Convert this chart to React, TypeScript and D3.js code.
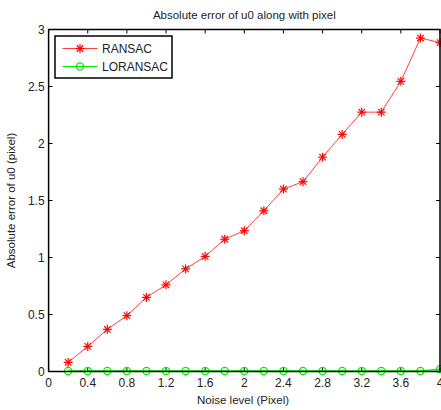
import React from "react";
import * as d3 from "d3";

const noise = [0.2, 0.4, 0.6, 0.8, 1.0, 1.2, 1.4, 1.6, 1.8, 2.0, 2.2, 2.4, 2.6, 2.8, 3.0, 3.2, 3.4, 3.6, 3.8, 4.0];
const ransac = [0.08, 0.22, 0.37, 0.49, 0.65, 0.76, 0.9, 1.01, 1.16, 1.235, 1.41, 1.6, 1.665, 1.88, 2.08, 2.275, 2.275, 2.545, 2.925, 2.885];
const loransac = [0.005, 0.005, 0.005, 0.005, 0.005, 0.005, 0.005, 0.005, 0.005, 0.005, 0.005, 0.005, 0.005, 0.005, 0.005, 0.005, 0.005, 0.005, 0.005, 0.02];
const xTicks = [0, 0.4, 0.8, 1.2, 1.6, 2, 2.4, 2.8, 3.2, 3.6, 4];
const yTicks = [0, 0.5, 1, 1.5, 2, 2.5, 3];

const W = 441, H = 410;
const L = 48.6, R = 440, T = 29.5, B = 371.5;
const font = "Arial, 'Liberation Sans', sans-serif";

function Star({ x, y, s = 4.5 }: { x: number; y: number; s?: number }) {
  const d = s * 0.72;
  return (
    <g stroke="#ff0000" strokeWidth={1.2}>
      <line x1={x - s} y1={y} x2={x + s} y2={y} />
      <line x1={x} y1={y - s} x2={x} y2={y + s} />
      <line x1={x - d} y1={y - d} x2={x + d} y2={y + d} />
      <line x1={x - d} y1={y + d} x2={x + d} y2={y - d} />
    </g>
  );
}

export default function App() {
  const x = d3.scaleLinear().domain([0, 4]).range([L, R]);
  const y = d3.scaleLinear().domain([0, 3]).range([B, T]);
  const line = d3.line<[number, number]>().x(d => x(d[0])).y(d => y(d[1]));
  const rPts = noise.map((n, i) => [n, ransac[i]] as [number, number]);
  const gPts = noise.map((n, i) => [n, loransac[i]] as [number, number]);
  const tl = 4;
  return (
    <svg width={W} height={H} style={{ position: "absolute", left: 0, top: 0, background: "#fff" }} fontFamily={font}>
      <rect x={0} y={0} width={W} height={H} fill="#fff" />
      <text x={(L + R) / 2} y={19} textAnchor="middle" fontSize={11.5} fill="#222">Absolute error of u0 along with pixel</text>
      {/* ticks */}
      {xTicks.map(t => (
        <g key={"x" + t}>
          <line x1={x(t)} x2={x(t)} y1={B} y2={B - tl} stroke="#000" />
          <line x1={x(t)} x2={x(t)} y1={T} y2={T + tl} stroke="#000" />
          <text x={x(t)} y={387} textAnchor="middle" fontSize={12} fill="#222">{String(t)}</text>
        </g>
      ))}
      {yTicks.map(t => (
        <g key={"y" + t}>
          <line x1={L} x2={L + tl} y1={y(t)} y2={y(t)} stroke="#000" />
          <line x1={R} x2={R - tl} y1={y(t)} y2={y(t)} stroke="#000" />
          <text x={L - 4} y={y(t) + 4} textAnchor="end" fontSize={12} fill="#222">{String(t)}</text>
        </g>
      ))}
      <text x={243} y={404} textAnchor="middle" fontSize={11.5} fill="#222">Noise level (Pixel)</text>
      <text transform={`translate(15,${(T + B) / 2}) rotate(-90)`} textAnchor="middle" fontSize={11.5} fill="#222">Absolute error of u0 (pixel)</text>
      {/* series */}
      <path d={line(rPts) ?? ""} fill="none" stroke="#ff4040" strokeWidth={1} />
      {rPts.map((p, i) => <Star key={"r" + i} x={x(p[0])} y={y(p[1])} />)}
      <path d={line(gPts) ?? ""} fill="none" stroke="#00ee00" strokeWidth={1.5} />
      {gPts.map((p, i) => <circle key={"g" + i} cx={x(p[0])} cy={y(p[1])} r={3.6} fill="none" stroke="#00ee00" strokeWidth={1.2} />)}
      {/* frame */}
      <rect x={L} y={T} width={R - L} height={B - T} fill="none" stroke="#000" strokeWidth={1.5} />
      {/* legend */}
      <rect x={55} y={36} width={117} height={42} fill="#fff" stroke="#000" strokeWidth={1.5} />
      <line x1={62.5} x2={97.5} y1={48.5} y2={48.5} stroke="#ff4040" strokeWidth={1} />
      <Star x={80} y={48.5} />
      <text x={102} y={52.5} fontSize={12} fill="#222">RANSAC</text>
      <line x1={62.5} x2={97.5} y1={66.5} y2={66.5} stroke="#00ee00" strokeWidth={1.2} />
      <circle cx={80} cy={66.5} r={3.6} fill="none" stroke="#00ee00" strokeWidth={1.2} />
      <text x={102} y={70.5} fontSize={12} fill="#222">LORANSAC</text>
    </svg>
  );
}
